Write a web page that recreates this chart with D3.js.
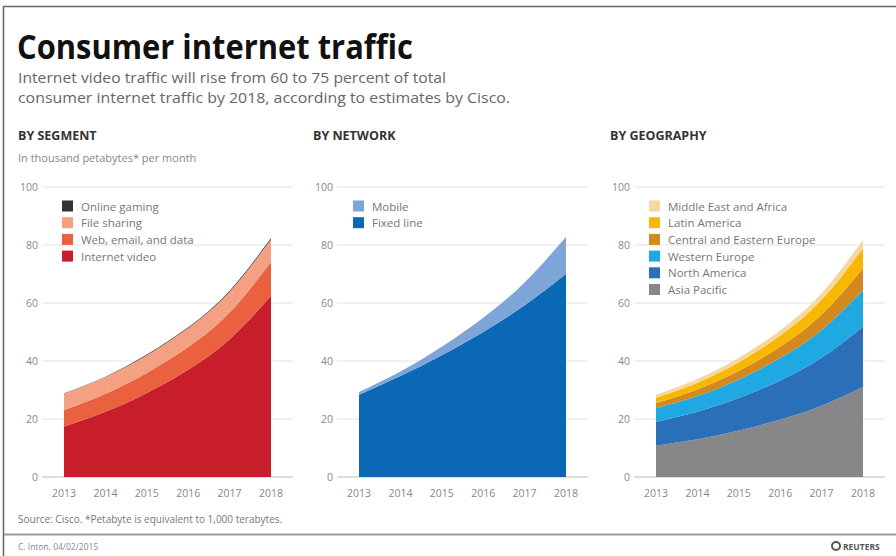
<!DOCTYPE html>
<html>
<head>
<meta charset="utf-8">
<script src="https://d3js.org/d3.v7.min.js"></script>
<style>
  body { margin: 0; background: #fff; }
  text { font-family: "Open Sans", sans-serif; }
</style>
</head>
<body>
<div id="chart"></div>
<script>
var w = 896, h = 556;

// years on the x axis
var years = [2013, 2014, 2015, 2016, 2017, 2018];
var yTicks = [0, 20, 40, 60, 80, 100];

// By segment (thousand petabytes per month)
var internetVideo = [17.4, 22.5, 29.0, 37.0, 47.5, 62.5];
var webEmailData  = [5.7, 6.2, 6.9, 7.8, 9.2, 11.6];
var fileSharing   = [5.7, 5.8, 6.1, 6.6, 7.2, 7.9];
var onlineGaming  = [0.1, 0.1, 0.2, 0.2, 0.3, 0.4];

// By network
var fixedLine = [28.4, 34.8, 42.0, 50.0, 59.2, 70.0];
var mobile    = [0.9, 1.6, 2.9, 4.9, 7.9, 12.8];

// By geography
var asiaPacific    = [10.8, 13.0, 16.0, 19.8, 24.6, 31.0];
var northAmerica   = [8.2, 9.5, 11.2, 13.5, 16.5, 20.8];
var westernEurope  = [4.7, 5.4, 6.4, 7.7, 9.6, 12.7];
var centralEastEu  = [1.8, 2.3, 3.0, 3.9, 5.3, 7.5];
var latinAmerica   = [1.8, 2.3, 3.0, 3.9, 5.1, 6.9];
var middleEastAfr  = [1.1, 1.3, 1.5, 1.8, 2.3, 2.9];

// panels: series listed bottom -> top
var panels = [
  { title: "BY SEGMENT", off: 0, legendX: 62, series: [
      { name: "Internet video", values: internetVideo, color: "#c81e2b" },
      { name: "Web, email, and data", values: webEmailData, color: "#e9613f" },
      { name: "File sharing", values: fileSharing, color: "#f4a183" },
      { name: "Online gaming", values: onlineGaming, color: "#333438" } ] },
  { title: "BY NETWORK", off: 295, legendX: 353, series: [
      { name: "Fixed line", values: fixedLine, color: "#0b68b4" },
      { name: "Mobile", values: mobile, color: "#7ea5d8" } ] },
  { title: "BY GEOGRAPHY", off: 592, legendX: 649, series: [
      { name: "Asia Pacific", values: asiaPacific, color: "#87878a" },
      { name: "North America", values: northAmerica, color: "#2b6fb8" },
      { name: "Western Europe", values: westernEurope, color: "#1fa8e2" },
      { name: "Central and Eastern Europe", values: centralEastEu, color: "#d4891f" },
      { name: "Latin America", values: latinAmerica, color: "#f9b800" },
      { name: "Middle East and Africa", values: middleEastAfr, color: "#f8d6a0" } ] }
];

var svg = d3.select("#chart").append("svg")
    .attr("width", w).attr("height", h);

// frame around the graphic
svg.append("path")
    .attr("d", "M3.5," + h + "V6.5H" + w)
    .attr("fill", "none").attr("stroke", "#666").attr("stroke-width", 1.5);

// title and intro
svg.append("text").attr("x", 17).attr("y", 59)
    .attr("font-size", 34).attr("font-weight", 700).attr("fill", "#111")
    .attr("textLength", 396).attr("lengthAdjust", "spacingAndGlyphs")
    .text("Consumer internet traffic");

svg.append("text").attr("x", 18).attr("y", 83)
    .attr("font-size", 14).attr("fill", "#666")
    .attr("textLength", 428).attr("lengthAdjust", "spacingAndGlyphs")
    .text("Internet video traffic will rise from 60 to 75 percent of total");
svg.append("text").attr("x", 18).attr("y", 103)
    .attr("font-size", 14).attr("fill", "#666")
    .attr("textLength", 492).attr("lengthAdjust", "spacingAndGlyphs")
    .text("consumer internet traffic by 2018, according to estimates by Cisco.");

svg.append("text").attr("x", 18).attr("y", 162)
    .attr("font-size", 11).attr("fill", "#888")
    .text("In thousand petabytes* per month");

var y = d3.scaleLinear().domain([0, 100]).range([477, 187]);

panels.forEach(function (p) {
    var g = svg.append("g");
    var x = d3.scaleLinear().domain([2013, 2018]).range([64 + p.off, 271 + p.off]);

    g.append("text").attr("x", 18 + p.off).attr("y", 140)
        .attr("font-size", 12.5).attr("font-weight", 700).attr("fill", "#333")
        .text(p.title);

    // gridlines
    g.selectAll("line.grid").data(yTicks).enter().append("line")
        .attr("class", "grid")
        .attr("x1", 42 + p.off).attr("x2", 293 + p.off)
        .attr("y1", d => y(d)).attr("y2", d => y(d))
        .attr("stroke", d => d === 0 ? "#bbb" : "#e2e2e2").attr("stroke-width", 1);

    g.selectAll("text.ylab").data(yTicks).enter().append("text")
        .attr("class", "ylab")
        .attr("x", 38 + p.off).attr("y", d => y(d) + 4)
        .attr("text-anchor", "end").attr("font-size", 10.5).attr("fill", "#888")
        .text(d => d);

    // stacked areas
    var rows = years.map(function (yr, i) {
        var r = { year: yr };
        p.series.forEach(s => r[s.name] = s.values[i]);
        return r;
    });
    var stack = d3.stack().keys(p.series.map(s => s.name))(rows);
    var area = d3.area()
        .x(d => x(d.data.year))
        .y0(d => y(d[0])).y1(d => y(d[1]))
        .curve(d3.curveNatural);

    g.selectAll("path.layer").data(stack).enter().append("path")
        .attr("class", "layer")
        .attr("d", area)
        .attr("fill", (d, i) => p.series[i].color);

    // x axis labels
    g.selectAll("text.xlab").data(years).enter().append("text")
        .attr("class", "xlab")
        .attr("x", d => x(d)).attr("y", 497)
        .attr("text-anchor", "middle").attr("font-size", 10.5).attr("fill", "#888")
        .text(d => d);

    // legend, top series first
    var leg = p.series.slice().reverse();
    var lg = g.selectAll("g.leg").data(leg).enter().append("g")
        .attr("class", "leg")
        .attr("transform", (d, i) => "translate(" + p.legendX + "," + (206 + i * 16.7) + ")");
    lg.append("rect").attr("x", 0).attr("y", -5.5).attr("width", 11).attr("height", 11)
        .attr("fill", d => d.color);
    lg.append("text").attr("x", 19).attr("y", 4.5)
        .attr("font-size", 11.5).attr("fill", "#777")
        .text(d => d.name);
});

// footer
svg.append("text").attr("x", 18).attr("y", 523)
    .attr("font-size", 10).attr("fill", "#777")
    .text("Source: Cisco. *Petabyte is equivalent to 1,000 terabytes.");

svg.append("line").attr("x1", 4).attr("x2", w).attr("y1", 534.5).attr("y2", 534.5)
    .attr("stroke", "#999").attr("stroke-width", 2);

svg.append("text").attr("x", 18).attr("y", 550)
    .attr("font-size", 8.5).attr("fill", "#888")
    .text("C. Inton, 04/02/2015");

// reuters mark
svg.append("circle").attr("cx", 836).attr("cy", 546).attr("r", 4)
    .attr("fill", "none").attr("stroke", "#555").attr("stroke-width", 2);
svg.append("text").attr("x", 843).attr("y", 549.5)
    .attr("font-size", 8.5).attr("font-weight", 700).attr("fill", "#555")
    .text("REUTERS");
</script>
</body>
</html>
